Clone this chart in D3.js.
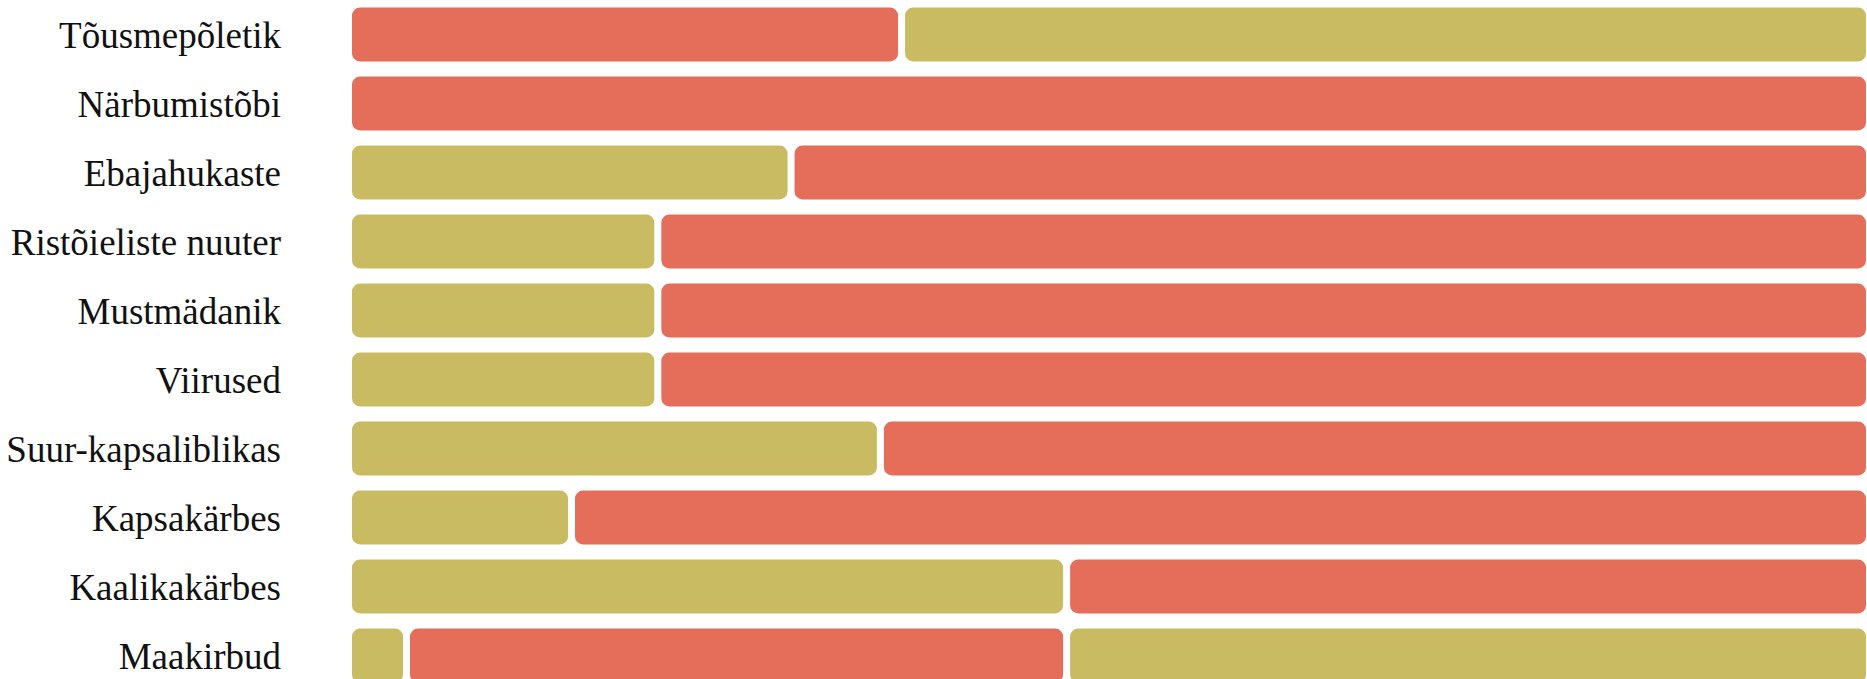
<!DOCTYPE html>
<html>
<head>
<meta charset="utf-8">
<script src="https://cdn.jsdelivr.net/npm/d3@7"></script>
<style>
    body { margin: 0; background: #fff; }
    svg { display: block; }
    .lbl { font-family: 'Liberation Serif', 'Nimbus Roman', 'Nimbus Roman No9 L', FreeSerif, 'Noto Serif', Tinos, 'DejaVu Serif', serif; }
</style>
</head>
<body>
<svg id="chart" width="1867" height="679"></svg>
<script>
// rows, top to bottom
let pests = ['Tõusmepõletik', 'Närbumistõbi', 'Ebajahukaste', 'Ristõieliste nuuter', 'Mustmädanik',
    'Viirused', 'Suur-kapsaliblikas', 'Kapsakärbes', 'Kaalikakärbes', 'Maakirbud']

// where one block ends and the next starts (share of the full bar, %)
let breaks = [[36.3], [], [29.0], [20.2], [20.2], [20.2], [34.9], [14.5], [47.2], [3.6, 47.2]]

// colour group of each block, left to right (a = red, b = olive)
let groups = [['a', 'b'], ['a'], ['b', 'a'], ['b', 'a'], ['b', 'a'], ['b', 'a'], ['b', 'a'], ['b', 'a'], ['b', 'a'], ['b', 'a', 'b']]

let colors = {a: '#e46e59', b: '#c8bb62'}

let svg = d3.select('#chart')
let width = +svg.attr('width')

let x = d3.scaleLinear()
    .domain([0, 100])
    .range([352, width - 1])

let y = d3.scaleBand()
    .domain(pests)
    .range([0, 690])
    .paddingInner(0.22)
    .paddingOuter(0.11)

// flatten into blocks
let blocks = []
pests.forEach(function (p, i) {
    let edges = [0].concat(breaks[i], [100])
    groups[i].forEach(function (g, j) {
        blocks.push({pest: p, start: edges[j], end: edges[j + 1], group: g})
    })
})

let gap = 3.5
svg.append('g')
    .selectAll('rect')
    .data(blocks)
    .enter()
    .append('rect')
    .attr('x', function (d) { return x(d.start) + (d.start > 0 ? gap : 0) })
    .attr('y', function (d) { return y(d.pest) })
    .attr('width', function (d) {
        return x(d.end) - x(d.start) - (d.start > 0 ? gap : 0) - (d.end < 100 ? gap : 0)
    })
    .attr('height', y.bandwidth())
    .attr('rx', 8)
    .attr('ry', 8)
    .style('fill', function (d) { return colors[d.group] })

// labels
svg.append('g')
    .selectAll('text')
    .data(pests)
    .enter()
    .append('text')
    .attr('class', 'lbl')
    .attr('x', 281)
    .attr('y', function (d) { return y(d) + y.bandwidth() / 2 + 13 })
    .attr('text-anchor', 'end')
    .attr('font-size', 37)
    .attr('fill', '#111')
    .text(function (d) { return d })
</script>
</body>
</html>
